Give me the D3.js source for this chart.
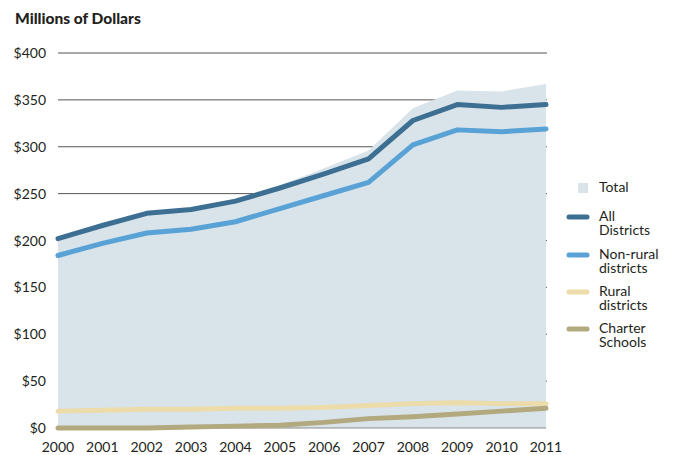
<!DOCTYPE html>
<html lang="en">
<head>
  <meta charset="UTF-8">
  <title>Millions of Dollars</title>
  <script src="https://d3js.org/d3.v7.min.js"></script>
  <style>
    body { margin: 0; background: #fff; font-family: Lato, "Open Sans", sans-serif; }
    text { fill: #231f20; }
  </style>
</head>
<body>
  <div id="chart"></div>

  <script>
    const years = [2000, 2001, 2002, 2003, 2004, 2005, 2006, 2007, 2008, 2009, 2010, 2011];
    const total = [202, 216, 229, 234, 244, 259, 277, 296, 341, 360, 359, 367];
    const allDistricts = [202, 216, 229, 233, 242, 256, 271, 287, 328, 345, 342, 345];
    const nonRural = [184, 197, 208, 212, 220, 234, 248, 262, 302, 318, 316, 319];
    const rural = [18, 19, 20, 20, 21, 21, 22, 24, 26, 27, 26, 26];
    const charter = [0, 0, 0, 1, 2, 3, 6, 10, 12, 15, 18, 21];
    const yTicks = [0, 50, 100, 150, 200, 250, 300, 350, 400];

    const width = 681, height = 455;
    const margin = { top: 53, right: 135, bottom: 27, left: 58 };

    const svg = d3.select("#chart").append("svg")
      .attr("width", width)
      .attr("height", height);

    const x = d3.scaleLinear()
      .domain([2000, 2011])
      .range([margin.left, width - margin.right]);

    const y = d3.scaleLinear()
      .domain([0, 400])
      .range([height - margin.bottom, margin.top]);

    // gridlines
    svg.append("g")
      .selectAll("line")
      .data(yTicks.filter(d => d > 0))
      .join("line")
      .attr("x1", margin.left)
      .attr("x2", width - margin.right + 1)
      .attr("y1", d => y(d))
      .attr("y2", d => y(d))
      .attr("stroke", "#555")
      .attr("stroke-width", 1);

    // total area
    svg.append("path")
      .datum(years.map((d, i) => [d, total[i]]))
      .attr("fill", "#d9e3ea")
      .attr("d", d3.area()
        .x(d => x(d[0]))
        .y0(y(0))
        .y1(d => y(d[1])));

    // baseline
    svg.append("line")
      .attr("x1", margin.left)
      .attr("x2", width - margin.right)
      .attr("y1", y(0))
      .attr("y2", y(0))
      .attr("stroke", "#8a8a8a")
      .attr("stroke-width", 1);

    const series = [
      { name: ["Rural", "districts"], values: rural, color: "#ecdcaa" },
      { name: ["Charter", "Schools"], values: charter, color: "#b3a97e" },
      { name: ["Non-rural", "districts"], values: nonRural, color: "#58a2d6" },
      { name: ["All", "Districts"], values: allDistricts, color: "#3d6f93" }
    ];

    const line = d3.line()
      .x(d => x(d[0]))
      .y(d => y(d[1]));

    svg.append("g")
      .selectAll("path")
      .data(series)
      .join("path")
      .attr("fill", "none")
      .attr("stroke", d => d.color)
      .attr("stroke-width", 5)
      .attr("stroke-linecap", "round")
      .attr("stroke-linejoin", "round")
      .attr("d", d => line(years.map((yr, i) => [yr, d.values[i]])));

    // y axis labels
    svg.append("g")
      .selectAll("text")
      .data(yTicks)
      .join("text")
      .attr("x", 46)
      .attr("y", d => y(d) + 5)
      .attr("text-anchor", "end")
      .style("font-size", "14px")
      .text(d => "$" + d);

    // x axis labels
    svg.append("g")
      .selectAll("text")
      .data(years)
      .join("text")
      .attr("x", d => x(d))
      .attr("y", 452)
      .attr("text-anchor", "middle")
      .style("font-size", "14px")
      .text(d => d);

    // title
    svg.append("text")
      .attr("x", 15)
      .attr("y", 24)
      .style("font-size", "15.5px")
      .style("font-weight", "900")
      .text("Millions of Dollars");

    // legend
    const lg = svg.append("g");
    lg.append("rect")
      .attr("x", 578).attr("y", 183)
      .attr("width", 10).attr("height", 10)
      .attr("fill", "#d9e3ea");
    lg.append("text")
      .attr("x", 599).attr("y", 192)
      .style("font-size", "14px")
      .text("Total");

    const legendItems = [series[3], series[2], series[0], series[1]];
    const legendY = [217, 255, 292, 329];
    legendItems.forEach((s, i) => {
      const ly = legendY[i];
      lg.append("line")
        .attr("x1", 569).attr("x2", 587)
        .attr("y1", ly).attr("y2", ly)
        .attr("stroke", s.color)
        .attr("stroke-width", 5)
        .attr("stroke-linecap", "round");
      const t = lg.append("text")
        .attr("x", 599).attr("y", ly + 4)
        .style("font-size", "14px");
      s.name.forEach((n, j) => {
        t.append("tspan")
          .attr("x", 599)
          .attr("dy", j === 0 ? 0 : 13.5)
          .text(n);
      });
    });
  </script>
</body>
</html>
